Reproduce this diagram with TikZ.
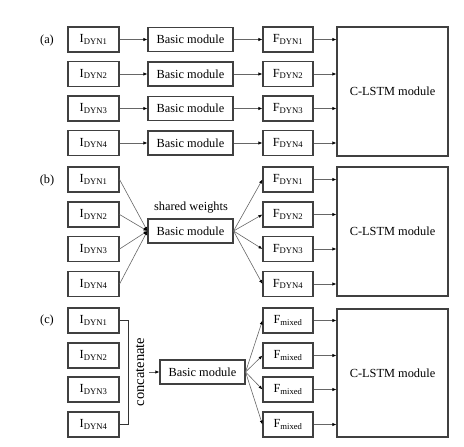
\documentclass[tikz,border=0pt]{standalone}
\usepackage{fontspec}
\setmainfont{Liberation Serif}
\usetikzlibrary{arrows.meta}
\begin{document}
\begin{tikzpicture}[x=1bp,y=-1bp,
  box/.style={draw=black!75,line width=1.1pt,inner sep=0pt,font=\fontsize{12.4}{14}\selectfont},
  ibox/.style={box,minimum width=51bp,minimum height=25bp},
  fbox/.style={box,minimum width=50bp,minimum height=25bp},
  bbox/.style={box,minimum width=85bp,minimum height=24bp},
  cbox/.style={box,minimum width=111bp},
  lab/.style={font=\fontsize{12.4}{14}\selectfont},
  arr/.style={draw=black!60,line width=0.6pt,-{Latex[length=4bp,width=3.2bp,color=black]}}
]
\useasboundingbox (0,0) rectangle (464,447);
% (a)
\node[lab] (la) at (47,41) {(a)};
\foreach \r/\y in {1/39.5,2/74,3/108.5,4/143}{
  \node[ibox] (ia\r) at (93.5,\y) {I\textsubscript{DYN\r}};
  \node[bbox] (ba\r) at (190.5,\y) {Basic module};
  \node[fbox] (fa\r) at (288,\y) {F\textsubscript{DYN\r}};
}
\node[cbox,minimum height=129bp] (ca) at (392.5,91.5) {C-LSTM module};
\foreach \r in {1,...,4}{
  \draw[arr] (ia\r) -- (ba\r);
  \draw[arr] (ba\r) -- (fa\r);
  \draw[arr] (fa\r.east) -- (fa\r.east -| ca.west);
}
% (b)
\node[lab] (lb) at (47,181) {(b)};
\node[bbox] (bb) at (190.5,231) {Basic module};
\node[lab] (sw) at (191,208) {shared weights};
\foreach \r/\y in {1/179.5,2/214.5,3/249,4/284}{
  \node[ibox] (ib\r) at (93.5,\y) {I\textsubscript{DYN\r}};
  \node[fbox] (fb\r) at (288,\y) {F\textsubscript{DYN\r}};
}
\node[cbox,minimum height=129bp] (cb) at (392.5,231.5) {C-LSTM module};
\foreach \r in {1,...,4}{
  \draw[arr] (ib\r.east) -- (bb.west);
  \draw[arr] (bb.east) -- (fb\r.west);
  \draw[arr] (fb\r.east) -- (fb\r.east -| cb.west);
}
% (c)
\node[lab] (lc) at (47,321) {(c)};
\foreach \r/\y in {1/320.5,2/355.5,3/389.5,4/424.5}{
  \node[ibox] (ic\r) at (93.5,\y) {I\textsubscript{DYN\r}};
  \node[fbox] (fc\r) at (288,\y) {F\textsubscript{mixed}};
}
\node[bbox] (bc) at (202.5,372) {Basic module};
\node[cbox,minimum height=128bp] (cc) at (392.5,373) {C-LSTM module};
\draw[black!80,line width=0.9pt] (ic1.east) -- ++(9,0) |- (ic4.east);
\node[font=\fontsize{14.6}{16}\selectfont,rotate=90] (cat) at (140,372) {concatenate};
\coordinate (cs) at (149,372);
\draw[arr] (cs) -- (bc.west);
\foreach \r in {1,...,4}{
  \draw[arr] (bc.east) -- (fc\r.west);
  \draw[arr] (fc\r.east) -- (fc\r.east -| cc.west);
}
\end{tikzpicture}
\end{document}
